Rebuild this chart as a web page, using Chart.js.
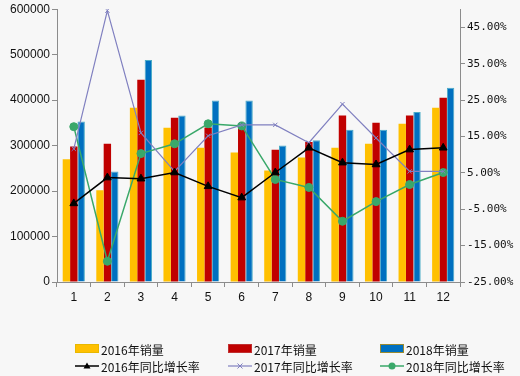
<!DOCTYPE html>
<html>
<head>
<meta charset="utf-8">
<script src="https://cdn.jsdelivr.net/npm/chart.js@4"></script>
<style>
  html, body { margin: 0; padding: 0; background: #f7f7f7; }
  #wrap { width: 520px; height: 376px; }
</style>
</head>
<body>
<div id="wrap"><canvas id="myChart" width="520" height="376"></canvas></div>
<script>
const months = ['1', '2', '3', '4', '5', '6', '7', '8', '9', '10', '11', '12'];
const sales2016 = [270000, 202000, 383000, 339000, 295000, 285000, 245000, 274000, 295000, 304000, 348000, 383000];
const sales2017 = [298000, 304000, 445000, 361000, 340000, 348000, 291000, 308000, 366000, 350000, 366000, 405000];
const sales2018 = [353000, 243000, 488000, 366000, 399000, 399000, 300000, 312000, 335000, 335000, 374000, 427000];
const growth2016 = [-3.4, 3.7, 3.4, 5.1, 1.3, -1.8, 5.1, 11.9, 7.8, 7.3, 11.4, 11.9];
const growth2017 = [11.6, 49.6, 16.0, 5.4, 15.2, 18.2, 18.2, 13.3, 23.9, 14.6, 5.4, 5.4];
const growth2018 = [17.7, -19.3, 10.3, 13.0, 18.5, 17.9, 3.2, 1.0, -8.3, -2.9, 1.8, 5.1];
const rightTicks = [-25, -15, -5, 5, 15, 25, 35, 45];

const axisColor = '#8c8c8c';
const tickFont = { family: 'Liberation Sans', size: 12 };

// legend laid out as a 3x2 grid under the chart
const legendPlugin = {
    id: 'gridLegend',
    afterDraw(chart) {
        const ctx = chart.ctx;
        const cols = [75, 228, 380];
        const rows = [349, 366];
        ctx.save();
        ctx.font = '12px "Noto Sans CJK SC"';
        ctx.textBaseline = 'middle';
        chart.data.datasets.forEach((ds, i) => {
            const x = cols[i % 3];
            const y = rows[Math.floor(i / 3)];
            if (ds.type === 'line') {
                ctx.strokeStyle = ds.borderColor;
                ctx.lineWidth = ds.borderWidth;
                ctx.beginPath();
                ctx.moveTo(x, y);
                ctx.lineTo(x + 24, y);
                ctx.stroke();
                ctx.fillStyle = ds.pointBackgroundColor;
                ctx.strokeStyle = ds.pointBorderColor;
                ctx.beginPath();
                if (ds.pointStyle === 'triangle') {
                    ctx.moveTo(x + 12, y - 3.5);
                    ctx.lineTo(x + 15.5, y + 2.5);
                    ctx.lineTo(x + 8.5, y + 2.5);
                    ctx.closePath();
                    ctx.fill();
                } else if (ds.pointStyle === 'circle') {
                    ctx.arc(x + 12, y, 3.5, 0, Math.PI * 2);
                    ctx.fill();
                } else {
                    ctx.lineWidth = 1;
                    ctx.moveTo(x + 9.5, y - 2.5); ctx.lineTo(x + 14.5, y + 2.5);
                    ctx.moveTo(x + 14.5, y - 2.5); ctx.lineTo(x + 9.5, y + 2.5);
                    ctx.stroke();
                }
            } else {
                ctx.fillStyle = ds.backgroundColor;
                ctx.fillRect(x, y - 5, 24, 9);
                ctx.strokeStyle = ds.legendBorder;
                ctx.lineWidth = 1;
                ctx.strokeRect(x + 0.5, y - 4.5, 23, 8);
            }
            ctx.fillStyle = '#111';
            ctx.fillText(ds.label, x + 26, y + 1);
        });
        ctx.restore();
    }
};

const bgPlugin = {
    id: 'bg',
    beforeDraw(chart) {
        const ctx = chart.ctx;
        ctx.save();
        ctx.fillStyle = '#f7f7f7';
        ctx.fillRect(0, 0, chart.width, chart.height);
        ctx.restore();
    }
};

function barSet(label, data, color, border, legendBorder) {
    return {
        type: 'bar',
        label: label,
        data: data,
        backgroundColor: color,
        borderColor: border,
        borderWidth: border ? { left: 1, right: 1, top: 1, bottom: 0 } : 0,
        legendBorder: legendBorder,
        yAxisID: 'y',
        order: 2,
        barPercentage: 1,
        categoryPercentage: 0.66
    };
}

function lineSet(label, data, color, width, style, radius) {
    return {
        type: 'line',
        label: label,
        data: data,
        borderColor: color,
        borderWidth: width,
        pointStyle: style,
        pointRadius: radius,
        pointBackgroundColor: color,
        pointBorderColor: color,
        pointBorderWidth: 1,
        tension: 0,
        yAxisID: 'y1',
        order: 1
    };
}

const ctx = document.getElementById('myChart').getContext('2d');
new Chart(ctx, {
    data: {
        labels: months,
        datasets: [
            barSet('2016年销量', sales2016, '#ffc000', null, '#e8b800'),
            barSet('2017年销量', sales2017, '#c00000', null, '#c03030'),
            barSet('2018年销量', sales2018, '#0070c0', '#4bacc6', '#9a8a30'),
            lineSet('2016年同比增长率', growth2016, '#000000', 1.5, 'triangle', 4.5),
            lineSet('2017年同比增长率', growth2017, '#8080c0', 1.2, 'crossRot', 3),
            lineSet('2018年同比增长率', growth2018, '#3aa86a', 1.5, 'circle', 4)
        ]
    },
    options: {
        responsive: false,
        animation: false,
        layout: { padding: { top: 8, left: 0, right: 0, bottom: 0 } },
        plugins: {
            legend: { display: false },
            tooltip: { enabled: false }
        },
        scales: {
            x: {
                grid: { offset: true, drawOnChartArea: false, drawTicks: true, tickLength: 5, color: axisColor },
                border: { color: axisColor },
                ticks: { color: '#111', font: tickFont, padding: 3 },
                afterFit(scale) { scale.height = 94; }
            },
            y: {
                position: 'left',
                min: 0,
                max: 600000,
                grid: { drawOnChartArea: false, drawTicks: true, tickLength: 5, color: axisColor },
                border: { color: axisColor },
                ticks: { stepSize: 100000, color: '#111', font: tickFont, padding: 2, callback: v => String(v) },
                afterFit(scale) { scale.width = 57; }
            },
            y1: {
                position: 'right',
                min: -25,
                max: 50,
                grid: { drawOnChartArea: false, drawTicks: true, tickLength: 5, color: axisColor },
                border: { color: axisColor },
                afterBuildTicks(scale) {
                    scale.ticks = rightTicks.map(v => ({ value: v }));
                },
                ticks: {
                    color: '#111',
                    font: { family: 'DejaVu Sans Mono', size: 11 },
                    padding: 2,
                    callback: v => v.toFixed(2) + '%'
                },
                afterFit(scale) { scale.width = 60; }
            }
        }
    },
    plugins: [bgPlugin, legendPlugin]
});
</script>
</body>
</html>
